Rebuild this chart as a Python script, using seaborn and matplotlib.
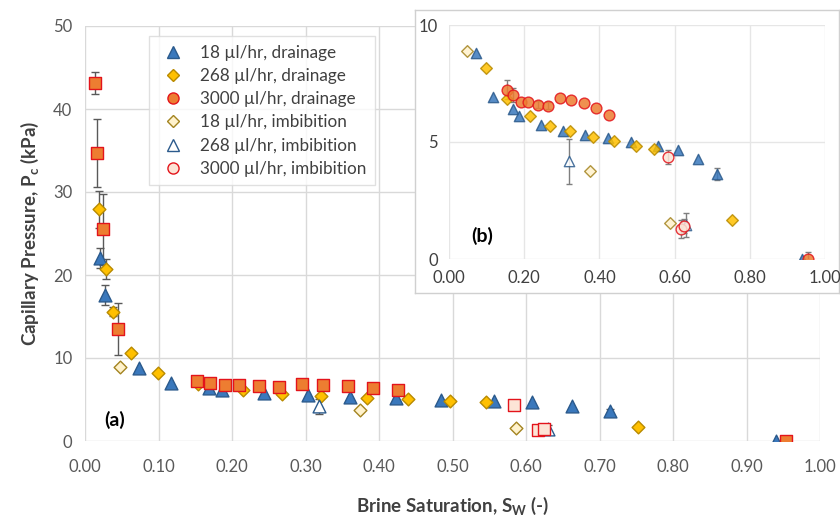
import numpy as np
import pandas as pd
import matplotlib
matplotlib.use("Agg")
import matplotlib.pyplot as plt
import seaborn as sns
from matplotlib.lines import Line2D

# ---------------- data ----------------
sw_18_dr = [0.020, 0.027, 0.073, 0.117, 0.169, 0.186, 0.244, 0.303, 0.361, 0.423, 0.484, 0.556, 0.608, 0.663, 0.714, 0.940]
pc_18_dr = [22.0, 17.6, 8.8, 6.94, 6.40, 6.12, 5.73, 5.49, 5.28, 5.16, 4.99, 4.81, 4.64, 4.27, 3.64, 0.0]
er_18_dr = [1.2, 1.2, 0, 0, 0, 0, 0, 0, 0, 0, 0, 0, 0, 0, 0.25, 0]

sw_268_dr = [0.019, 0.029, 0.038, 0.062, 0.099, 0.154, 0.215, 0.268, 0.321, 0.383, 0.439, 0.497, 0.546, 0.752]
pc_268_dr = [27.9, 20.7, 15.6, 10.6, 8.18, 6.84, 6.12, 5.70, 5.48, 5.23, 5.05, 4.84, 4.71, 1.68]
er_268_dr = [2.2, 1.2, 0.5, 0, 0, 0, 0, 0, 0, 0, 0, 0, 0, 0]

sw_3000_dr = [0.0136, 0.0167, 0.024, 0.045, 0.153, 0.170, 0.191, 0.209, 0.237, 0.264, 0.295, 0.324, 0.358, 0.392, 0.426, 0.954]
pc_3000_dr = [43.1, 34.7, 25.5, 13.5, 7.23, 7.01, 6.69, 6.69, 6.59, 6.54, 6.90, 6.80, 6.66, 6.44, 6.15, 0.0]
er_3000_dr = [1.3, 4.1, 4.3, 3.1, 0.4, 0.3, 0, 0, 0.15, 0.15, 0, 0, 0, 0, 0, 0.3]

sw_18_im = [0.048, 0.374, 0.587]
pc_18_im = [8.9, 3.78, 1.54]
er_18_im = [0, 0, 0]

sw_268_im = [0.319, 0.630]
pc_268_im = [4.17, 1.45]
er_268_im = [0.95, 0.5]

sw_3000_im = [0.583, 0.616, 0.624]
pc_3000_im = [4.35, 1.28, 1.40]
er_3000_im = [0.3, 0.4, 0.3]

labels = ["18 µl/hr, drainage", "268 µl/hr, drainage", "3000 µl/hr, drainage",
          "18 µl/hr, imbibition", "268 µl/hr, imbibition", "3000 µl/hr, imbibition"]
x_ticks = [0.0, 0.1, 0.2, 0.3, 0.4, 0.5, 0.6, 0.7, 0.8, 0.9, 1.0]
y_ticks = [0, 10, 20, 30, 40, 50]
x_ticks_b = [0.0, 0.2, 0.4, 0.6, 0.8, 1.0]
y_ticks_b = [0, 5, 10]

# ---------------- style ----------------
sns.set_theme(style="white")
plt.rcParams["font.family"] = ["Lato", "DejaVu Sans"]

series = [
    (sw_18_dr, pc_18_dr, er_18_dr, dict(marker="^", fc="#3A78BC", ec="#2B5A8C", s=85, s_in=55, m_in="^")),
    (sw_268_dr, pc_268_dr, er_268_dr, dict(marker="D", fc="#FFC000", ec="#B88A00", s=42, s_in=35, m_in="D")),
    (sw_3000_dr, pc_3000_dr, er_3000_dr, dict(marker="s", fc="#ED7D31", ec="#E3141B", s=70, s_in=60, m_in="o")),
    (sw_18_im, pc_18_im, er_18_im, dict(marker="D", fc="#FFF2CC", ec="#A38420", s=42, s_in=35, m_in="D")),
    (sw_268_im, pc_268_im, er_268_im, dict(marker="^", fc="#FFFFFF", ec="#2B5A8C", s=85, s_in=55, m_in="^")),
    (sw_3000_im, pc_3000_im, er_3000_im, dict(marker="s", fc="#FCE4D6", ec="#E3141B", s=70, s_in=60, m_in="o")),
]

W, H = 840, 525
fig = plt.figure(figsize=(8.4, 5.25), dpi=100)
ax = fig.add_axes([85 / W, 1 - 441 / H, 735 / W, 415 / H])

grid_c = "#D9D9D9"
tick_c = "#595959"


def draw(axis, inset=False):
    for sw, pc, er, st in series:
        df = pd.DataFrame({"Sw": sw, "Pc": pc, "err": er})
        dfe = df[df["err"] > 0]
        if len(dfe):
            axis.errorbar(dfe["Sw"], dfe["Pc"], yerr=dfe["err"], fmt="none",
                          ecolor="#595959" if not inset else "#7F7F7F",
                          elinewidth=1.0, capsize=3 if not inset else 2.5,
                          capthick=1.0, zorder=2)
        sns.scatterplot(data=df, x="Sw", y="Pc", ax=axis,
                        marker=st["m_in"] if inset else st["marker"],
                        s=st["s_in"] if inset else st["s"],
                        color=st["fc"], edgecolor=st["ec"], linewidth=1.0,
                        alpha=0.85 if inset else 1.0,
                        zorder=3, legend=False, clip_on=True)


draw(ax)
ax.set_xlim(0, 1.0)
ax.set_ylim(0, 50)
ax.set_xticks(x_ticks)
ax.set_xticklabels([f"{v:.2f}" for v in x_ticks])
ax.set_yticks(y_ticks)
ax.set_yticklabels([str(v) for v in y_ticks])
ax.grid(True, color=grid_c, linewidth=1.0)
ax.set_axisbelow(True)
for sp in ax.spines.values():
    sp.set_visible(False)
ax.tick_params(axis="both", length=0, labelsize=12, labelcolor=tick_c, pad=9)
ax.tick_params(axis="x", pad=13)
ax.set_xlabel("Brine Saturation, S$_\\mathregular{W}$ (-)", fontsize=13.5, fontweight="bold",
              color="#404040", labelpad=14)
ax.set_ylabel("Capillary Pressure, P$_\\mathregular{c}$ (kPa)", fontsize=13.5, fontweight="bold",
              color="#404040", labelpad=9)
ax.text(0.040, 0.05, "(a)", transform=ax.transAxes, fontsize=14, fontweight="bold",
        ha="center", va="center", color="black")

handles = []
for (sw, pc, er, st), lab in zip(series, labels):
    mk = "o" if st["marker"] == "s" else st["marker"]
    ms = 8 if mk == "^" else (6.5 if mk == "D" else 8)
    handles.append(Line2D([], [], linestyle="none", marker=mk, markersize=ms,
                          markerfacecolor=st["fc"], markeredgecolor=st["ec"],
                          markeredgewidth=1.0, label=lab))
leg = ax.legend(handles=handles, loc="upper left", bbox_to_anchor=(0.087, 0.975),
                borderaxespad=0, frameon=True, fancybox=False, fontsize=12.3,
                labelspacing=0.42, handletextpad=0.7, borderpad=0.5,
                handlelength=1.8, labelcolor="#404040")
leg.get_frame().set_edgecolor("#D9D9D9")
leg.get_frame().set_linewidth(1.0)

# ---------------- inset frame ----------------
frame = fig.add_axes([415 / W, 1 - 293 / H, 424 / W, 283 / H], zorder=3)
frame.set_xticks([])
frame.set_yticks([])
frame.set_facecolor("white")
for sp in frame.spines.values():
    sp.set_color("#D0D0D0")
    sp.set_linewidth(1.0)

axb = fig.add_axes([449 / W, 1 - 259 / H, 376 / W, 234 / H], zorder=4)
draw(axb, inset=True)
axb.set_xlim(0, 1.0)
axb.set_ylim(0, 10)
axb.set_xticks(x_ticks_b)
axb.set_xticklabels([f"{v:.2f}" for v in x_ticks_b])
axb.set_yticks(y_ticks_b)
axb.set_yticklabels([str(v) for v in y_ticks_b])
axb.grid(True, color="#E6E6E6", linewidth=1.0)
axb.set_axisbelow(True)
axb.set_facecolor("white")
for sp in axb.spines.values():
    sp.set_visible(False)
axb.tick_params(axis="both", length=0, labelsize=12, labelcolor="#404040", pad=8)
axb.set_xlabel("")
axb.set_ylabel("")
axb.text(0.087, 0.10, "(b)", transform=axb.transAxes, fontsize=14, fontweight="bold",
         ha="center", va="center", color="black")

fig.savefig("out.png", dpi=100)
